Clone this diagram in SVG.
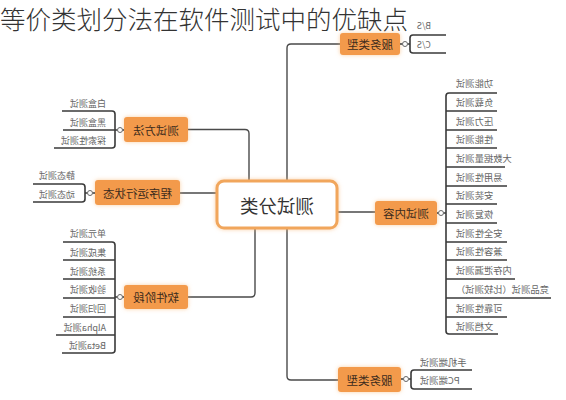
<svg xmlns="http://www.w3.org/2000/svg" width="566" height="400" viewBox="0 0 566 400">
<defs>
<filter id="glow" x="-20%" y="-30%" width="140%" height="160%">
<feDropShadow dx="0" dy="0" stdDeviation="2" flood-color="#f7b06a" flood-opacity="0.6"/>
</filter>
<style>
text{font-family:"Noto Sans CJK SC","Noto Sans",sans-serif;dominant-baseline:central}
.title{font-size:25.5px;fill:#333;font-weight:300;dominant-baseline:alphabetic}
.node rect{fill:#f39a4b;filter:url(#glow)}
.node text{font-size:11.5px;fill:#3b2a1c;text-anchor:middle}
.center rect{fill:#ffffff;stroke:#f1a65c;stroke-width:3;filter:url(#glow)}
.center text{font-size:18.5px;fill:#333;text-anchor:middle}
.conn path{fill:none;stroke:#4a4a4a;stroke-width:1.4}
.br path{fill:none;stroke:#3a3a3a;stroke-width:1.6}
.br circle{fill:#fff;stroke:#666;stroke-width:1}
.lt{font-size:9px;fill:#666;text-anchor:start}
.rt{font-size:9.3px;fill:#666;text-anchor:end}
</style>
</defs>
<rect width="566" height="400" fill="#ffffff"/>
<text class="title" x="0" y="29">等价类划分法在软件测试中的优缺点</text>

<g id="connectors" class="conn">
<path d="M287 181 V48 Q287 44 291 44 H340"/>
<path d="M188 129.5 H245 Q249 129.5 249 133.5 V181"/>
<path d="M180 193 H217"/>
<path d="M337 212 H375"/>
<path d="M255 228 V293 Q255 297 251 297 H188"/>
<path d="M287 228 V376 Q287 380 291 380 H338"/>
</g>

<g id="center" class="center">
<rect x="217" y="181" width="120" height="47" rx="7"/>
<text transform="translate(277,205) scale(-1,1)">测试分类</text>
</g>

<g id="n-method" class="node">
<rect x="124" y="117" width="64" height="25" rx="3"/>
<text transform="translate(156,129.5) scale(-1,1)">测试方法</text>
</g>
<g id="n-method-children" class="br">
<path d="M124 130 H122.5 M117.5 130 H115"/>
<circle cx="120" cy="130" r="2.5"/>
<path d="M62 111 H112 Q115 111 115 114 V145 Q115 148 112 148 H54"/>
<path d="M63 130 H115"/>
<text class="lt" transform="translate(106,103) scale(-1,1)">白盒测试</text>
<text class="lt" transform="translate(106,122) scale(-1,1)">黑盒测试</text>
<text class="lt" transform="translate(106,140) scale(-1,1)">探索性测试</text>
</g>

<g id="n-state" class="node">
<rect x="95" y="180" width="85" height="25" rx="3"/>
<text transform="translate(137.5,192.5) scale(-1,1)">程序运行状态</text>
</g>
<g id="n-state-children" class="br">
<path d="M95 193 H92.5 M87.5 193 H85"/>
<circle cx="90" cy="193" r="2.5"/>
<path d="M33 184 H82 Q85 184 85 187 V199 Q85 202 82 202 H33"/>
<text class="lt" transform="translate(75,175) scale(-1,1)">静态测试</text>
<text class="lt" transform="translate(75,194) scale(-1,1)">动态测试</text>
</g>

<g id="n-stage" class="node">
<rect x="124" y="285" width="64" height="24" rx="3"/>
<text transform="translate(156,297) scale(-1,1)">软件阶段</text>
</g>
<g id="n-stage-children" class="br">
<path d="M124 297 H122.5 M117.5 297 H115"/>
<circle cx="120" cy="297" r="2.5"/>
<path d="M63 242 H112 Q115 242 115 245 V350 Q115 353 112 353 H62"/>
<path d="M63 260 H115 M63 279 H115 M63 298 H115 M63 317 H115 M56 335 H115"/>
<text class="lt" transform="translate(106,233) scale(-1,1)">单元测试</text>
<text class="lt" transform="translate(106,252) scale(-1,1)">集成测试</text>
<text class="lt" transform="translate(106,271) scale(-1,1)">系统测试</text>
<text class="lt" transform="translate(106,289) scale(-1,1)">验收测试</text>
<text class="lt" transform="translate(106,308) scale(-1,1)">回归测试</text>
<text class="lt" transform="translate(106,327) scale(-1,1)">Alpha测试</text>
<text class="lt" transform="translate(106,345) scale(-1,1)">Beta测试</text>
</g>

<g id="n-content" class="node">
<rect x="375" y="201" width="62" height="24" rx="3"/>
<text transform="translate(406,213) scale(-1,1)">测试内容</text>
</g>
<g id="n-content-children" class="br">
<path d="M437 213 H438.5 M443.5 213 H446"/>
<circle cx="441" cy="213" r="2.5"/>
<path d="M497 93 H449 Q446 93 446 96 V331 Q446 334 449 334 H498"/>
<path d="M446 111 H497 M446 130 H497 M446 148 H497 M446 167 H505 M446 186 H507 M446 204 H497 M446 223 H497 M446 242 H507 M446 260 H507 M446 279 H515 M446 298 H551 M446 317 H507"/>
<text class="rt" transform="translate(456,83) scale(-1,1)">功能测试</text>
<text class="rt" transform="translate(456,102) scale(-1,1)">负载测试</text>
<text class="rt" transform="translate(456,121) scale(-1,1)">压力测试</text>
<text class="rt" transform="translate(456,139) scale(-1,1)">性能测试</text>
<text class="rt" transform="translate(456,158) scale(-1,1)">大数据量测试</text>
<text class="rt" transform="translate(456,177) scale(-1,1)">易用性测试</text>
<text class="rt" transform="translate(456,195) scale(-1,1)">安装测试</text>
<text class="rt" transform="translate(456,214) scale(-1,1)">恢复测试</text>
<text class="rt" transform="translate(456,233) scale(-1,1)">安全性测试</text>
<text class="rt" transform="translate(456,251) scale(-1,1)">兼容性测试</text>
<text class="rt" transform="translate(456,270) scale(-1,1)">内存泄漏测试</text>
<text class="rt" transform="translate(456,289) scale(-1,1)">竞品测试（比较测试）</text>
<text class="rt" transform="translate(456,308) scale(-1,1)">可靠性测试</text>
<text class="rt" transform="translate(456,326) scale(-1,1)">文档测试</text>
</g>

<g id="n-service-top" class="node">
<rect x="340" y="33" width="60" height="22" rx="3"/>
<text transform="translate(370,44) scale(-1,1)">服务类型</text>
</g>
<g id="n-service-top-children" class="br">
<path d="M400 44 H402.5 M407.5 44 H410"/>
<circle cx="405" cy="44" r="2.5"/>
<path d="M446 35 H413 Q410 35 410 38 V50 Q410 53 413 53 H446"/>
<text class="rt" style="font-size:8.5px" transform="translate(417,25) scale(-1,1)">B/S</text>
<text class="rt" style="font-size:8.5px" transform="translate(417,44) scale(-1,1)">C/S</text>
</g>

<g id="n-service-bottom" class="node">
<rect x="338" y="367" width="63" height="25" rx="3"/>
<text transform="translate(369.5,379.5) scale(-1,1)">服务类型</text>
</g>
<g id="n-service-bottom-children" class="br">
<path d="M401 379 H403.5 M408.5 379 H411"/>
<circle cx="406" cy="379" r="2.5"/>
<path d="M472 370 H414 Q411 370 411 373 V386 Q411 389 414 389 H472"/>
<text class="rt" transform="translate(420,362) scale(-1,1)">手机端测试</text>
<text class="rt" transform="translate(420,380) scale(-1,1)">PC端测试</text>
</g>
</svg>
